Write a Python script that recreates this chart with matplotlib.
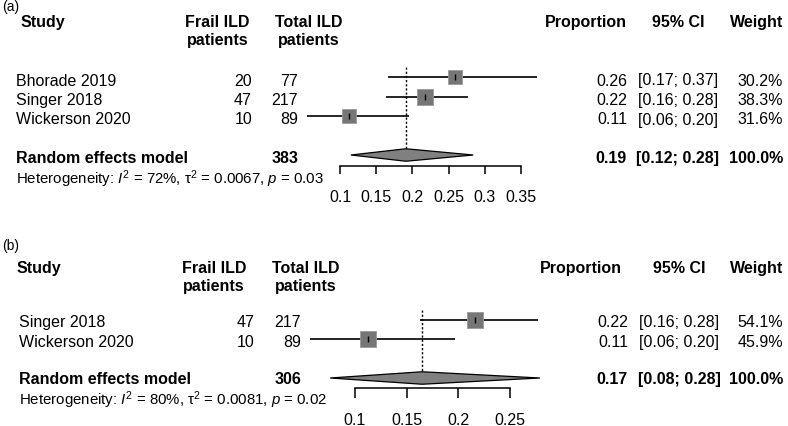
import matplotlib
matplotlib.use("Agg")
import matplotlib.pyplot as plt
import numpy as np

plt.rcParams['font.family'] = ['Liberation Sans', 'DejaVu Sans']
plt.rcParams['mathtext.fontset'] = 'custom'
plt.rcParams['mathtext.rm'] = 'Liberation Sans'
plt.rcParams['mathtext.it'] = 'Liberation Sans:italic'
plt.rcParams['mathtext.bf'] = 'Liberation Sans:bold'

# ---------------- data: panel (a) ----------------
a_studies = ["Bhorade 2019", "Singer 2018", "Wickerson 2020"]
a_events = [20, 47, 10]
a_total = [77, 217, 89]
a_est = [0.259, 0.217, 0.112]
a_lo = [0.166, 0.163, 0.055]
a_hi = [0.372, 0.277, 0.195]
a_weight = [30.2, 38.3, 31.6]
a_prop_txt = ["0.26", "0.22", "0.11"]
a_ci_txt = ["[0.17; 0.37]", "[0.16; 0.28]", "[0.06; 0.20]"]
a_pooled_est = 0.191
a_pooled_lo = 0.115
a_pooled_hi = 0.284
a_pooled_n = 383
a_pooled_txt = ["0.19", "[0.12; 0.28]", "100.0%"]
a_het = r"Heterogeneity: $I^2$ = 72%, $\mathrm{\tau}^2$ = 0.0067, $p$ = 0.03"
a_ticks = [0.1, 0.15, 0.2, 0.25, 0.3, 0.35]
a_ticklabels = ["0.1", "0.15", "0.2", "0.25", "0.3", "0.35"]

# ---------------- data: panel (b) ----------------
b_studies = ["Singer 2018", "Wickerson 2020"]
b_events = [47, 10]
b_total = [217, 89]
b_est = [0.216, 0.113]
b_lo = [0.163, 0.056]
b_hi = [0.277, 0.197]
b_weight = [54.1, 45.9]
b_prop_txt = ["0.22", "0.11"]
b_ci_txt = ["[0.16; 0.28]", "[0.06; 0.20]"]
b_pooled_est = 0.165
b_pooled_lo = 0.076
b_pooled_hi = 0.279
b_pooled_n = 306
b_pooled_txt = ["0.17", "[0.08; 0.28]", "100.0%"]
b_het = r"Heterogeneity: $I^2$ = 80%, $\mathrm{\tau}^2$ = 0.0081, $p$ = 0.02"
b_ticks = [0.1, 0.15, 0.2, 0.25]
b_ticklabels = ["0.1", "0.15", "0.2", "0.25"]

# ---------------- figure ----------------
W, H = 788, 427
fig = plt.figure(figsize=(W / 100, H / 100), dpi=100)
FS = 11.5
SQ_COLOR = '#767676'


def T(x, y, s, **kw):
    fig.text(x / W, 1 - y / H, s, va='baseline', fontsize=kw.pop('fontsize', FS), **kw)


def panel(label, lay, studies, events, total, est, lo, hi, weight, prop_txt, ci_txt,
          pooled_est, pooled_lo, pooled_hi, pooled_n, pooled_txt, het, ticks, ticklabels):
    L, R, TOP, BOT = lay['ax']
    t0px, t0val, ppu = lay['xmap']
    r0px, rstep = lay['rows']
    ax = fig.add_axes([L / W, 1 - BOT / H, (R - L) / W, (BOT - TOP) / H])
    ax.set_xlim(t0val + (L - t0px) / ppu, t0val + (R - t0px) / ppu)
    ax.set_ylim((BOT - r0px) / rstep, (TOP - r0px) / rstep)
    for s in ['top', 'left', 'right']:
        ax.spines[s].set_visible(False)
    ax.spines['bottom'].set_bounds(ticks[0], ticks[-1])
    ax.spines['bottom'].set_linewidth(1.1)
    ax.set_yticks([])
    ax.set_xticks(ticks)
    ax.set_xticklabels(ticklabels)
    ax.tick_params(axis='x', direction='out', length=lay['ticklen'], width=1.1,
                   pad=lay['tickpad'], labelsize=11.5)
    ax.patch.set_alpha(0)

    n = len(studies)
    rows = np.arange(n)
    pooled_row = n + 1
    ax.vlines(pooled_est, -0.5, pooled_row - 0.3, colors='black', linewidth=1.0,
              linestyles=(0, (1.6, 1.4)), zorder=1)
    ax.hlines(rows, lo, hi, colors='black', linewidth=1.2, zorder=2)
    for r, e, w in zip(rows, est, weight):
        side_px = lay['sqk'] * np.sqrt(w)
        ax.plot([e], [r], marker='s', ms=side_px * 0.72, color=SQ_COLOR,
                mec='#9a9a9a', mew=0.6, zorder=3)
        ax.plot([e], [r], marker='|', ms=5, color='black', mew=1.0, zorder=4)
    h = 0.32
    ax.fill([pooled_lo, pooled_est, pooled_hi, pooled_est],
            [pooled_row, pooled_row - h, pooled_row, pooled_row + h],
            facecolor='#808080', edgecolor='black', linewidth=0.9, zorder=3)

    T(lay['lab'][0], lay['lab'][1], label, fontsize=10)
    hy1, hy2 = lay['head']
    T(lay['study_x'], hy1, "Study", fontweight='bold')
    T(lay['frail_c'], hy1, "Frail ILD", fontweight='bold', ha='center')
    T(lay['frail_c'], hy2, "patients", fontweight='bold', ha='center')
    T(lay['total_c'], hy1, "Total ILD", fontweight='bold', ha='center')
    T(lay['total_c'], hy2, "patients", fontweight='bold', ha='center')
    T(lay['prop_hr'], hy1, "Proportion", fontweight='bold', ha='right')
    T(lay['ci_c'], hy1, "95% CI", fontweight='bold', ha='center')
    T(lay['w_r'], hy1, "Weight", fontweight='bold', ha='right')

    off = lay['base_off']
    for r in rows:
        y = r0px + rstep * r + off
        T(lay['name_x'], y, studies[r])
        T(lay['frail_r'], y, str(events[r]), ha='right')
        T(lay['total_r'], y, str(total[r]), ha='right')
        T(lay['prop_r'], y, prop_txt[r], ha='right')
        T(lay['ci_c'], y, ci_txt[r], ha='center')
        T(lay['w_r'], y, f"{weight[r]:.1f}%", ha='right')
    y = r0px + rstep * pooled_row + lay['pool_off']
    T(lay['name_x'], y, "Random effects model", fontweight='bold')
    T(lay['total_r'], y, str(pooled_n), fontweight='bold', ha='right')
    T(lay['prop_r'], y, pooled_txt[0], fontweight='bold', ha='right')
    T(lay['ci_c'], y, pooled_txt[1], fontweight='bold', ha='center')
    T(lay['w_r'], y, pooled_txt[2], fontweight='bold', ha='right')
    T(lay['name_x'], lay['het_y'], het, fontsize=10.8)


lay_a = dict(ax=(300, 545, 60, 167), xmap=(340, 0.1, 724), rows=(78, 19.5),
             ticklen=5.8, tickpad=11, sqk=2.585, lab=(2, 11), head=(27, 45),
             study_x=21, name_x=16, frail_c=217.5, total_c=309, frail_r=252, total_r=298,
             prop_hr=627, prop_r=627, ci_c=678, w_r=783, base_off=7.5, pool_off=7,
             het_y=184)
lay_b = dict(ax=(300, 548, 300, 389), xmap=(355, 0.1, 1033), rows=(320.5, 19.5),
             ticklen=7.0, tickpad=10, sqk=2.27, lab=(2, 250), head=(273, 291),
             study_x=17, name_x=19, frail_c=214, total_c=306, frail_r=254, total_r=301,
             prop_hr=622, prop_r=628, ci_c=679, w_r=783, base_off=7, pool_off=5.5,
             het_y=405)

panel("(a)", lay_a, a_studies, a_events, a_total, a_est, a_lo, a_hi, a_weight, a_prop_txt,
      a_ci_txt, a_pooled_est, a_pooled_lo, a_pooled_hi, a_pooled_n, a_pooled_txt, a_het,
      a_ticks, a_ticklabels)
panel("(b)", lay_b, b_studies, b_events, b_total, b_est, b_lo, b_hi, b_weight, b_prop_txt,
      b_ci_txt, b_pooled_est, b_pooled_lo, b_pooled_hi, b_pooled_n, b_pooled_txt, b_het,
      b_ticks, b_ticklabels)

fig.savefig("out.png", dpi=100)
